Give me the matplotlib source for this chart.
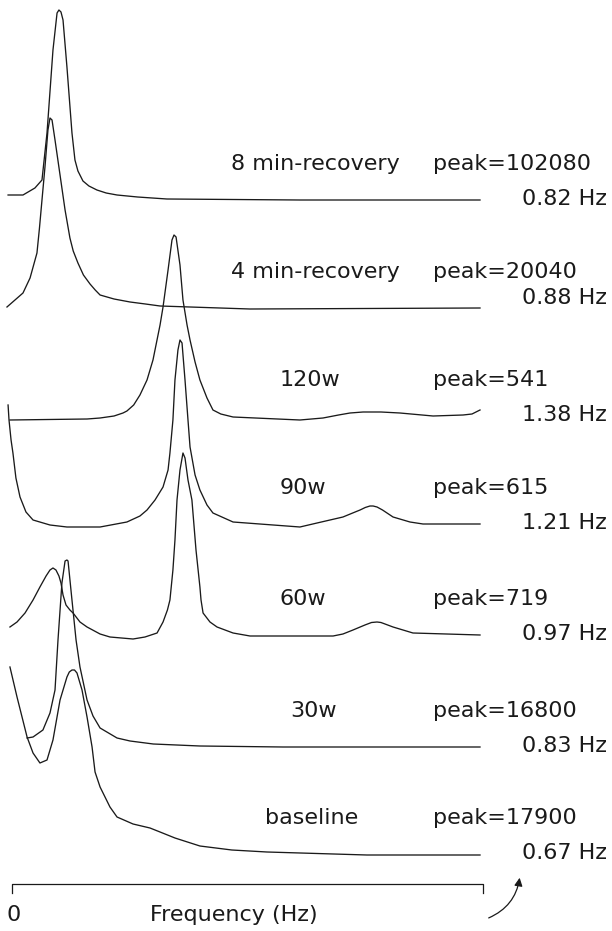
"""
Stacked power spectra (waterfall) for baseline, exercise and recovery stages.
"""

import matplotlib
matplotlib.use("Agg")
import matplotlib.pyplot as plt

# frequency axis runs 0..3 (arbitrary Hz scale, axis is unlabeled apart from 0)
# each trace: frequency samples and height above its own floor
f_8min = [-0.025, 0.07, 0.146, 0.191, 0.223, 0.261, 0.287, 0.299, 0.312, 0.325,
          0.35, 0.382, 0.401, 0.42, 0.452, 0.49, 0.541, 0.6, 0.669, 0.8, 0.987,
          1.834, 2.981]
p_8min = [5, 5, 12, 20, 67, 150, 187, 190, 188, 180, 133, 67, 40, 29, 19, 14, 10,
          7, 5, 3, 1, 0, 0]

f_4min = [-0.032, 0.07, 0.115, 0.159, 0.175, 0.191, 0.21, 0.229, 0.242, 0.255,
          0.274, 0.306, 0.338, 0.369, 0.39, 0.42, 0.455, 0.497, 0.53, 0.561, 0.65,
          0.752, 0.85, 0.943, 1.516, 2.981]
p_4min = [1, 15, 30, 55, 80, 108, 141, 178, 190, 188, 168, 133, 98, 70, 57, 45, 33,
          24, 18, 13, 9, 6, 4, 2, -1, 0]

f_120w = [-0.013, 0.478, 0.561, 0.65, 0.707, 0.732, 0.775, 0.815, 0.86, 0.898,
          0.943, 0.962, 0.994, 1.019, 1.032, 1.045, 1.07, 1.089, 1.115, 1.134,
          1.166, 1.197, 1.242, 1.28, 1.33, 1.408, 1.834, 1.981, 2.08, 2.153,
          2.236, 2.35, 2.471, 2.682, 2.873, 2.93, 2.981]
p_120w = [-4, -3, -2, 0, 3, 5, 11, 21, 36, 56, 91, 109, 146, 176, 181, 179, 151,
          116, 91, 76, 54, 36, 18, 6, 2, -1, -4, -2, 1, 3, 4, 4, 3, 0, 1, 2, 6]

f_90w = [-0.025, -0.019, -0.006, 0.006, 0.025, 0.051, 0.089, 0.134, 0.242, 0.35,
         0.561, 0.732, 0.815, 0.86, 0.911, 0.962, 0.994, 1.006, 1.025, 1.038,
         1.057, 1.07, 1.083, 1.102, 1.121, 1.134, 1.166, 1.197, 1.242, 1.28,
         1.408, 1.834, 1.943, 2.108, 2.17, 2.217, 2.25, 2.28, 2.30, 2.325, 2.36,
         2.427, 2.535, 2.618, 2.981]
p_90w = [119, 104, 84, 71, 46, 27, 12, 4, -1, -3, -3, 2, 8, 14, 24, 37, 54, 71,
         104, 144, 174, 184, 181, 144, 104, 77, 49, 34, 19, 11, 2, -3, 1, 7, 11,
         14, 16.5, 18, 18, 17, 14, 7, 2, 0, 0]

f_60w = [-0.013, 0.032, 0.083, 0.134, 0.178, 0.217, 0.242, 0.261, 0.28, 0.299,
         0.312, 0.325, 0.344, 0.369, 0.389, 0.433, 0.478, 0.561, 0.624, 0.771,
         0.847, 0.924, 0.962, 0.99, 1.006, 1.025, 1.038, 1.051, 1.07, 1.089, 1.102,
         1.121, 1.146, 1.172, 1.197, 1.204, 1.217, 1.261, 1.306, 1.408, 1.516,
         2.045, 2.108, 2.172, 2.248, 2.29, 2.325, 2.35, 2.376, 2.427, 2.554, 2.981]
p_60w = [8, 13, 22, 35, 48, 59, 65, 67, 65, 59, 52, 40, 30, 25, 22, 13, 8, 1, -2,
         -4, -2, 2, 13, 25, 35, 65, 95, 135, 165, 182, 177, 155, 135, 85, 48, 35,
         22, 13, 8, 2, -1, -1, 1, 5, 10, 12.5, 13, 12.5, 11, 8, 2, 0]

f_30w = [0.096, 0.134, 0.197, 0.242, 0.274, 0.293, 0.318, 0.338, 0.35, 0.357,
         0.382, 0.408, 0.433, 0.478, 0.516, 0.561, 0.669, 0.752, 0.9, 1.197,
         1.726, 2.981]
p_30w = [9, 10, 17, 34, 57, 107, 164, 186, 187, 186, 147, 107, 80, 47, 31, 19, 9,
         6, 3, 1, 0, 0]

f_base = [-0.013, 0.032, 0.096, 0.134, 0.178, 0.223, 0.261, 0.306, 0.35, 0.365,
          0.382, 0.398, 0.414, 0.446, 0.478, 0.51, 0.529, 0.561, 0.624, 0.669,
          0.771, 0.879, 0.943, 1.038, 1.197, 1.4, 1.624, 2.261, 2.981]
p_base = [187, 157, 117, 101, 91, 94, 114, 154, 177, 182, 184, 184, 181, 164, 137,
          107, 82, 67, 47, 37, 30, 26, 22, 16, 8, 4, 2, -1, -1]

# top to bottom
stages = ["8 min-recovery", "4 min-recovery", "120w", "90w", "60w", "30w", "baseline"]
peak_power = [102080, 20040, 541, 615, 719, 16800, 17900]
peak_freq = [0.82, 0.88, 1.38, 1.21, 0.97, 0.83, 0.67]
offsets = [731, 623, 515, 407, 296, 184, 77]
freqs = [f_8min, f_4min, f_120w, f_90w, f_60w, f_30w, f_base]
powers = [p_8min, p_4min, p_120w, p_90w, p_60w, p_30w, p_base]

axis_ends = [0.0, 3.0]


def main():
    plt.rcParams['font.family'] = ['DejaVu Sans']
    fig = plt.figure(figsize=(6.12, 9.31), dpi=100)
    ax = fig.add_axes([0, 0, 1, 1])
    ax.set_xlim(-0.0764, 3.8217)
    ax.set_ylim(0, 931)
    ax.axis('off')

    ink = '#1a1a1a'
    fs = 16
    # label centres for stage names (they are not all aligned in the original)
    name_x = [1.93, 1.93, 1.90, 1.85, 1.85, 1.92, 1.91]

    for i, name in enumerate(stages):
        off = offsets[i]
        ys = [off + p for p in powers[i]]
        ax.plot(freqs[i], ys, color=ink, lw=0.95, solid_joinstyle='round')

        ax.text(name_x[i], off + 36, name, ha='center', va='center',
                fontsize=fs, color=ink)
        ax.text(2.68, off + 36, f"peak={peak_power[i]}", ha='left', va='center',
                fontsize=fs, color=ink)
        hz_dy = 10 if i == 1 else 1
        ax.text(3.79, off + hz_dy, f"{peak_freq[i]:.2f} Hz", ha='right',
                va='center', fontsize=fs, color=ink)

    # frequency axis with end ticks
    ax.plot([axis_ends[0], axis_ends[0], axis_ends[1], axis_ends[1]],
            [38, 47, 47, 38], color=ink, lw=0.9)
    ax.text(0.01, 16, "0", ha='center', va='center', fontsize=fs, color=ink)
    ax.text(1.41, 16, "Frequency (Hz)", ha='center', va='center',
            fontsize=fs, color=ink)

    # curved arrow pointing at the baseline frequency
    ax.annotate("", xy=(3.236, 56), xytext=(3.02, 12),
                arrowprops=dict(arrowstyle='-|>', color=ink, lw=0.9,
                                mutation_scale=12,
                                connectionstyle='arc3,rad=0.3'))

    fig.savefig('out.png', dpi=100)


if __name__ == "__main__":
    main()
